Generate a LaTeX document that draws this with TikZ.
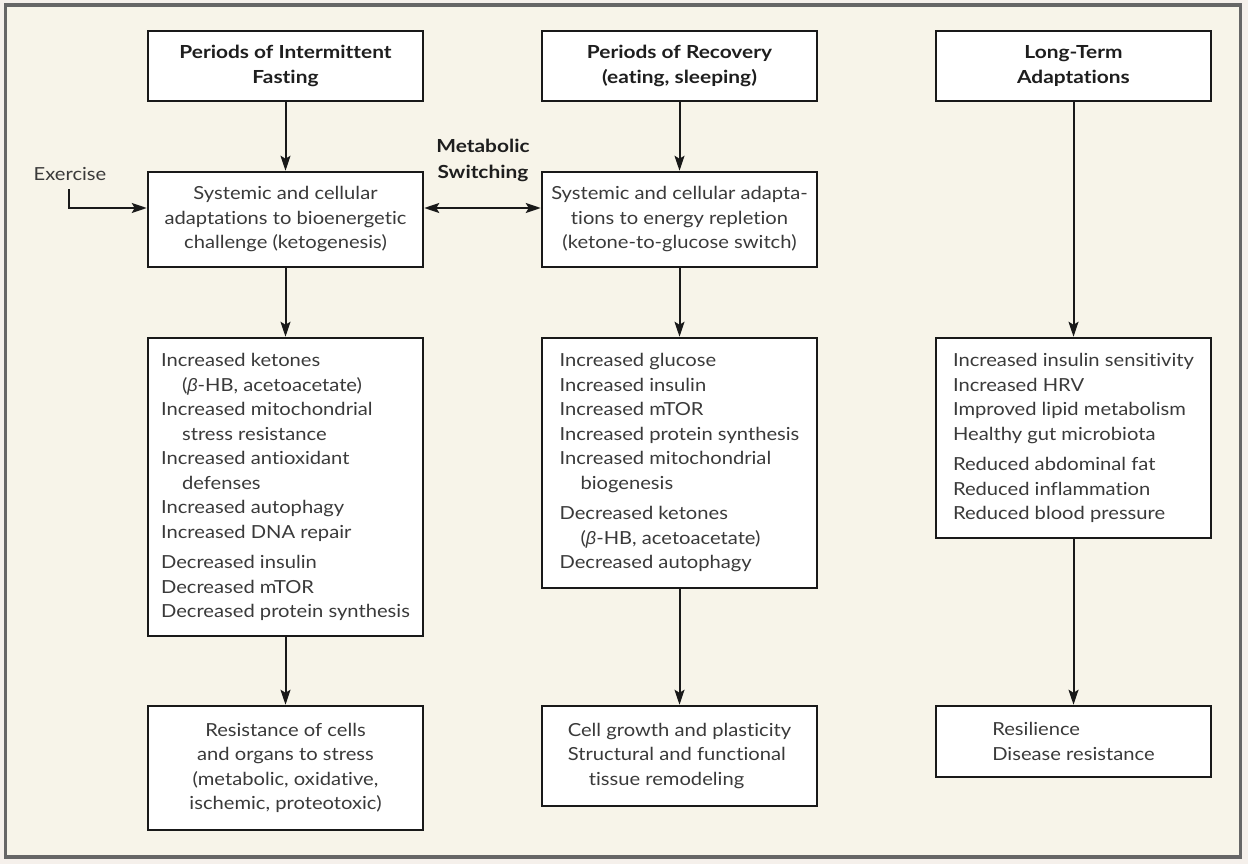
\documentclass[tikz,border=0pt]{standalone}
\usepackage{fontspec}
\setmainfont{Lato}[FakeStretch=1.12, BoldFeatures={FakeStretch=1.16}, Ligatures=NoCommon]
\newfontfamily\grkfont{Liberation Sans}
\newcommand{\betaglyph}{{\grkfont\itshape β}}
\usetikzlibrary{arrows.meta}
\definecolor{framecol}{HTML}{666666}
\definecolor{creamcol}{HTML}{F7F4E9}
\definecolor{outcol}{HTML}{F5F0EB}
\definecolor{txtcol}{HTML}{3A3A3A}
\definecolor{hdrcol}{HTML}{1E1E1E}
\begin{document}
\begin{tikzpicture}[x=1pt,y=-1pt,
  box/.style={draw=black!90, line width=2.5pt, fill=white, minimum width=275pt, inner sep=0pt, text=txtcol, font=\fontsize{18}{24.5}\selectfont},
  hdrbox/.style={box, minimum height=70pt, font=\bfseries\fontsize{18}{25}\selectfont, text=hdrcol, align=center},
  arr/.style={line width=2pt, draw=black!90, -{Stealth[length=15pt,width=10pt,inset=3pt]}},
  arrtwo/.style={line width=2pt, draw=black!90, {Stealth[length=15pt,width=10pt,inset=3pt]}-{Stealth[length=15pt,width=10pt,inset=3pt]}},
]
\useasboundingbox (0,0) rectangle (1248,864);
\fill[outcol] (0,0) rectangle (1248,864);
\draw[framecol, line width=3.5pt, fill=creamcol] (5.5,5) rectangle (1240.5,857);

\node[hdrbox] (a1) at (285.5,66) {Periods of Intermittent\\Fasting};
\node[hdrbox] (b1) at (679.5,66) {Periods of Recovery\\(eating, sleeping)};
\node[hdrbox] (c1) at (1073.5,66) {Long-Term\\Adaptations};

\node[box, minimum height=95pt, align=center] (a2) at (285.5,219.5)
  {Systemic and cellular\\adaptations to bioenergetic\\challenge (ketogenesis)};
\node[box, minimum height=95pt, align=center] (b2) at (679.5,219.5)
  {Systemic and cellular adapta-\\tions to energy repletion\\(ketone-to-glucose switch)};

\node[box, minimum height=298pt, align=left] (a3) at (285.5,487)
  {Increased ketones\\
   \hspace*{21pt}(\betaglyph-HB, acetoacetate)\\
   Increased mitochondrial\\
   \hspace*{21pt}stress resistance\\
   Increased antioxidant\\
   \hspace*{21pt}defenses\\
   Increased autophagy\\
   Increased DNA repair\\[6pt]
   Decreased insulin\\
   Decreased mTOR\\
   Decreased protein synthesis};
\node[box, minimum height=250pt, align=left] (b3) at (679.5,463)
  {Increased glucose\\
   Increased insulin\\
   Increased mTOR\\
   Increased protein synthesis\\
   Increased mitochondrial\\
   \hspace*{21pt}biogenesis\\[6pt]
   Decreased ketones\\
   \hspace*{21pt}(\betaglyph-HB, acetoacetate)\\
   Decreased autophagy};
\node[box, minimum height=200pt, align=left] (c3) at (1073.5,438)
  {Increased insulin sensitivity\\
   Increased HRV\\
   Improved lipid metabolism\\
   Healthy gut microbiota\\[6pt]
   Reduced abdominal fat\\
   Reduced inflammation\\
   Reduced blood pressure};

\node[box, minimum height=124pt, align=center] (a4) at (285.5,768)
  {Resistance of cells\\and organs to stress\\(metabolic, oxidative,\\ischemic, proteotoxic)};
\node[box, minimum height=100pt, align=left] (b4) at (679.5,756)
  {Cell growth and plasticity\\Structural and functional\\\hspace*{21pt}tissue remodeling};
\node[box, minimum height=71pt, align=left] (c4) at (1073.5,741.5)
  {Resilience\\Disease resistance};

\node[align=center, text=hdrcol, font=\bfseries\fontsize{18}{26}\selectfont] (ms) at (483,160) {Metabolic\\Switching};
\node[text=txtcol, font=\fontsize{18}{24.5}\selectfont, inner sep=0pt] (ex) at (70,174) {Exercise};
\coordinate (exs) at (69,189);

\draw[arr] (a1) -- (a2);
\draw[arr] (a2) -- (a3);
\draw[arr] (a3) -- (a4);
\draw[arr] (b1) -- (b2);
\draw[arr] (b2) -- (b3);
\draw[arr] (b3) -- (b4);
\draw[arr] (c1) -- (c3);
\draw[arr] (c3) -- (c4);
\draw[arr] (exs) |- ([yshift=11.5pt]a2.west);
\draw[arrtwo] ([yshift=11.5pt]a2.east) -- ([yshift=11.5pt]b2.west);
\end{tikzpicture}
\end{document}
